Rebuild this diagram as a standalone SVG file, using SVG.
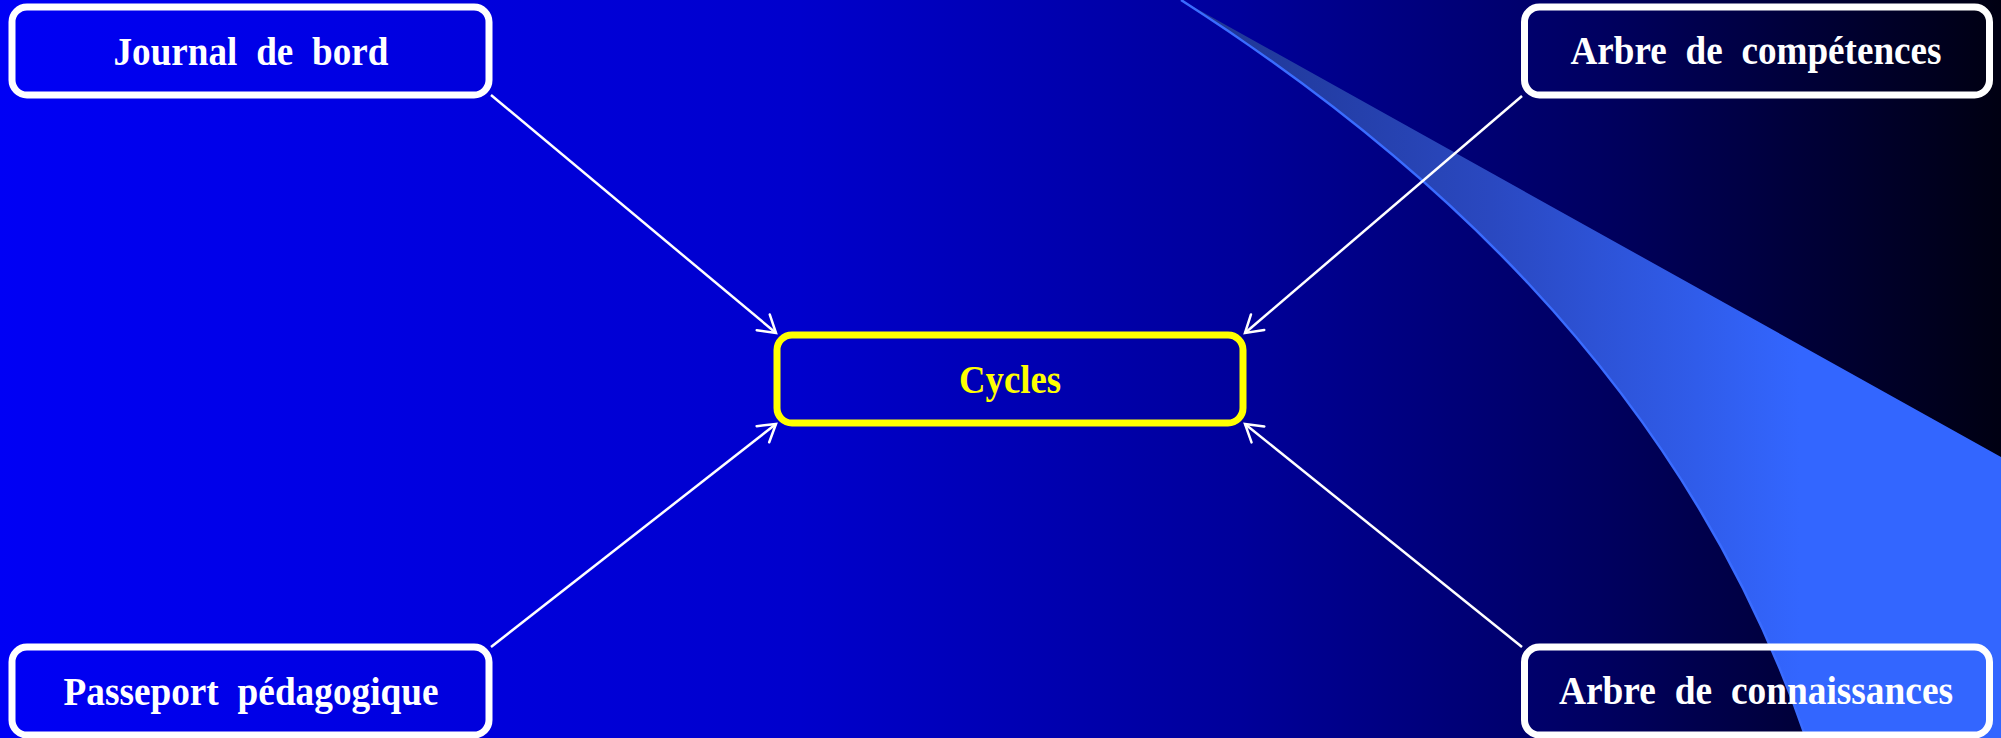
<svg xmlns="http://www.w3.org/2000/svg" width="2001" height="738" viewBox="0 0 2001 738">
  <defs>
    <linearGradient id="bg" x1="0" y1="0" x2="2001" y2="0" gradientUnits="userSpaceOnUse">
      <stop offset="0" stop-color="#0000f5"/>
      <stop offset="0.4" stop-color="#0000cc"/>
      <stop offset="0.62" stop-color="#00009a"/>
      <stop offset="0.8" stop-color="#000060"/>
      <stop offset="1" stop-color="#000012"/>
    </linearGradient>
    <linearGradient id="swoosh" x1="1180" y1="0" x2="1800" y2="0" gradientUnits="userSpaceOnUse">
      <stop offset="0" stop-color="#1e3590"/>
      <stop offset="0.5" stop-color="#2a48c0"/>
      <stop offset="1" stop-color="#3366ff"/>
    </linearGradient>
    <marker id="arrow" markerUnits="userSpaceOnUse" markerWidth="30" markerHeight="30" viewBox="-20 -15 24 30" refX="0" refY="0" orient="auto">
      <path d="M-16.6,-10.2 L0,0 L-16.6,10.2" fill="none" stroke="#ffffff" stroke-width="2.5" stroke-linecap="round" stroke-linejoin="miter"/>
    </marker>
    <style>
      .box { fill: none; stroke: #ffffff; stroke-width: 7; }
      .center { fill: none; stroke: #ffff00; stroke-width: 7; }
      .lbl { font-family: "Liberation Serif", "Times New Roman", serif; font-weight: bold; font-size: 39px; fill: #ffffff; text-anchor: middle; word-spacing: 10px; }
      .lblc { font-family: "Liberation Serif", "Times New Roman", serif; font-weight: bold; font-size: 40px; fill: #ffff00; text-anchor: middle; }
      .conn { stroke: #ffffff; stroke-width: 2.5; fill: none; marker-end: url(#arrow); }
    </style>
  </defs>

  <rect x="0" y="0" width="2001" height="738" fill="url(#bg)"/>

  <g id="background-swoosh">
    <path d="M1181,0 L2001,457 L2001,738 L1806,738 C1680,370 1400,140 1181,0 Z" fill="url(#swoosh)"/>
    <path d="M1806,738 C1680,370 1400,140 1181,0" fill="none" stroke="#3a6cff" stroke-width="2.5"/>
  </g>

  <g id="connectors">
    <line class="conn" x1="491" y1="95" x2="776" y2="333"/>
    <line class="conn" x1="491" y1="647" x2="776" y2="424"/>
    <line class="conn" x1="1522" y1="96" x2="1245" y2="333"/>
    <line class="conn" x1="1522" y1="647" x2="1245" y2="424"/>
  </g>

  <g id="node-journal">
    <rect class="box" x="12" y="7" width="477" height="88" rx="15"/>
    <text class="lbl" x="251" y="65" textLength="275" lengthAdjust="spacingAndGlyphs">Journal de bord</text>
  </g>

  <g id="node-passeport">
    <rect class="box" x="12" y="647" width="477" height="88" rx="15"/>
    <text class="lbl" x="251" y="705" textLength="375" lengthAdjust="spacingAndGlyphs">Passeport pédagogique</text>
  </g>

  <g id="node-competences">
    <rect class="box" x="1524.5" y="7" width="465" height="88" rx="15"/>
    <text class="lbl" x="1756" y="64" textLength="371" lengthAdjust="spacingAndGlyphs">Arbre de compétences</text>
  </g>

  <g id="node-connaissances">
    <rect class="box" x="1524.5" y="647" width="465" height="88" rx="15"/>
    <text class="lbl" x="1756" y="704" textLength="394" lengthAdjust="spacingAndGlyphs">Arbre de connaissances</text>
  </g>

  <g id="node-cycles">
    <rect class="center" x="777" y="335" width="466" height="88" rx="15"/>
    <text class="lblc" x="1010" y="393" textLength="102" lengthAdjust="spacingAndGlyphs">Cycles</text>
  </g>
</svg>
